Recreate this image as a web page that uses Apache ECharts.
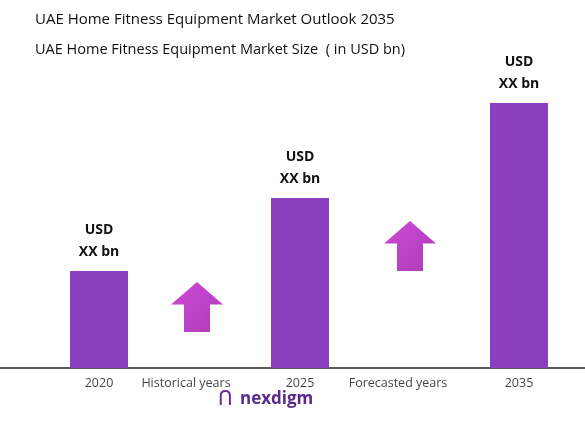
<!DOCTYPE html>
<html><head><meta charset="utf-8">
<script src="https://cdn.jsdelivr.net/npm/echarts@6/dist/echarts.min.js"></script>
<style>html,body{margin:0;padding:0;background:#fff}#c{width:585px;height:421px}</style>
</head><body><div id="c"></div>
<script>
  // Données
  const years = ['2020', '2025', '2035'];
  const yearSlots = [99, 300, 519];
  const barValues = [97, 170, 265];
  const barLabel = 'USD\nXX bn';
  const periodLabels = ['Historical years', 'Forecasted years'];
  const periodSlots = [186, 398];
  const arrowValues = [61, 122];
  const arrowSlots = [197, 410];

  const chart = echarts.init(document.getElementById('c'));
  const font = '"Open Sans", sans-serif';
  const arrowPath = 'path://M50,0 L100,45 L75,45 L75,100 L25,100 L25,45 L0,45 Z';

  chart.setOption({
    animation: false,
    title: [
      { text: 'UAE Home Fitness Equipment Market Outlook 2035', left: 30, top: 7,
        textStyle: { fontFamily: font, fontSize: 15, fontWeight: 'normal', color: '#111' } },
      { text: 'UAE Home Fitness Equipment Market Size  ( in USD bn)', left: 30, top: 37,
        textStyle: { fontFamily: font, fontSize: 14.5, fontWeight: 'normal', color: '#111' } }
    ],
    grid: { left: 0, right: 0, top: 60, bottom: 53 },
    xAxis: { type: 'value', min: 0, max: 585, show: true,
      axisLine: { show: true, onZero: true, lineStyle: { color: '#222', width: 1.5 } },
      axisTick: { show: false }, axisLabel: { show: false }, splitLine: { show: false } },
    yAxis: { type: 'value', min: 0, max: 308, show: false },
    series: [
      {
        type: 'bar', barWidth: 58,
        itemStyle: { color: '#8b40bf' },
        label: { show: true, position: 'top', formatter: barLabel, fontFamily: font,
          fontSize: 14, fontWeight: 'bold', color: '#111', lineHeight: 22, distance: 8 },
        data: barValues.map((v, i) => [yearSlots[i], v])
      },
      {
        type: 'scatter', symbolSize: 0.1, silent: true,
        label: { show: true, position: 'bottom', distance: 9, formatter: p => p.data[2],
          fontFamily: font, fontSize: 12.5, color: '#111' },
        data: years.map((y, i) => [yearSlots[i], 0, y])
          .concat(periodLabels.map((t, i) => [periodSlots[i], 0, t]))
      },
      {
        type: 'scatter', symbol: arrowPath, symbolSize: [52, 50], silent: true,
        itemStyle: { color: new echarts.graphic.LinearGradient(0, 0, 1, 1, [
          { offset: 0, color: '#c01ccc' }, { offset: 1, color: '#9a0ca6' }]) },
        data: arrowValues.map((v, i) => [arrowSlots[i], v])
      }
    ],
    graphic: [
      { type: 'text', left: 218, top: 389, style: { text: 'ᑎ', fontSize: 20, fill: '#6a2c9e', fontFamily: font } },
      { type: 'text', left: 240, top: 391, style: { text: 'nexdigm', fontSize: 17,
        fontWeight: 'bold', fill: '#5b2a8c', fontFamily: font } }
    ]
  });
</script></body></html>
